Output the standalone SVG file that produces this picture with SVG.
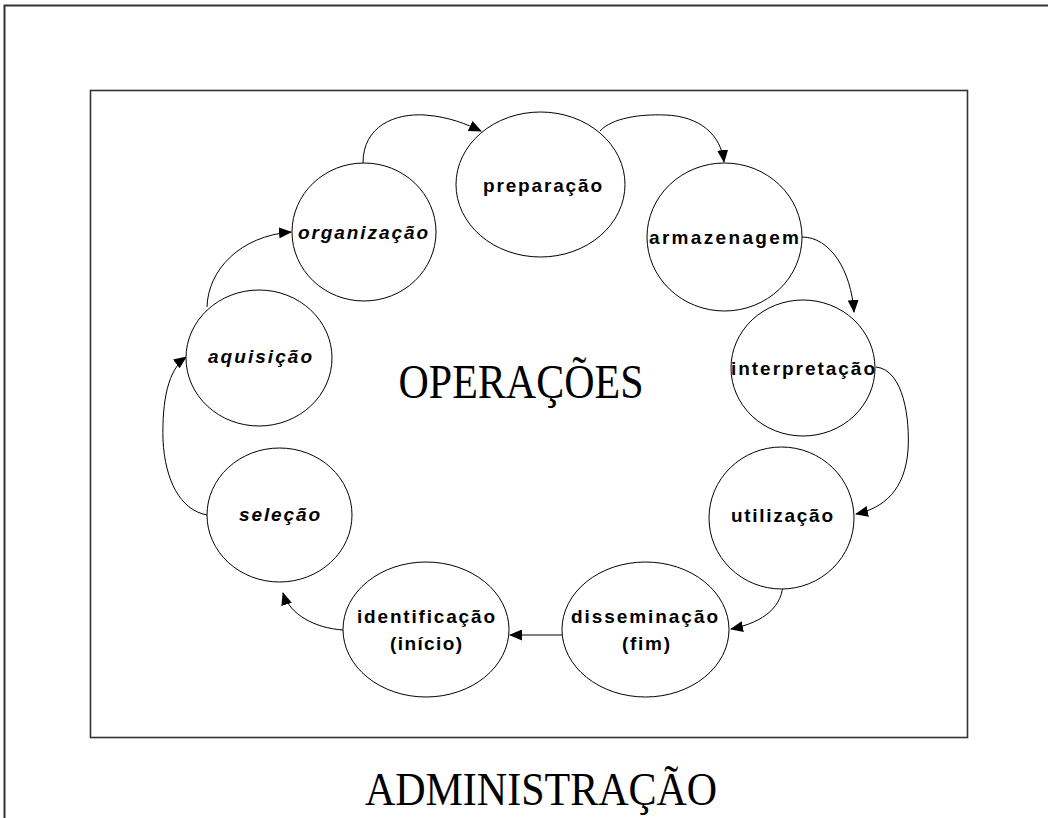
<svg xmlns="http://www.w3.org/2000/svg" width="1048" height="818" viewBox="0 0 1048 818">
  <style>
    .node ellipse { fill: #ffffff; stroke: #000000; stroke-width: 1; }
    .lbl { font-family: "Liberation Sans", Arial, sans-serif; font-size: 19px; font-weight: bold; fill: #000000; text-anchor: middle; }
    .it { font-style: italic; }
    .title { font-family: "Liberation Serif", "Times New Roman", serif; fill: #000000; text-anchor: middle; }
    .link { fill: none; stroke: #000000; stroke-width: 1; marker-end: url(#arrow); }
  </style>
  <defs>
    <marker id="arrow" viewBox="0 0 13 11" refX="12" refY="5.5" markerWidth="13" markerHeight="11" markerUnits="userSpaceOnUse" orient="auto">
      <path d="M0,0 L13,5.5 L0,11 Z" fill="#000000"/>
    </marker>
  </defs>

  <rect width="1048" height="818" fill="#ffffff"/>

  <!-- outer page frame -->
  <path d="M4.5,818 L4.5,5.5 L1048,5.5" fill="none" stroke="#333333" stroke-width="2"/>
  <!-- operations frame -->
  <rect x="90.5" y="90.5" width="877" height="647" fill="none" stroke="#333333" stroke-width="1.6"/>

  <text class="title" x="521" y="398" font-size="42" transform="translate(0,-60) scale(1,1.15)">OPERAÇÕES</text>
  <text class="title" x="541" y="805" font-size="42" transform="translate(0,-105) scale(1,1.13)">ADMINISTRAÇÃO</text>

  <g id="connectors">
    <path class="link" d="M363,163 C363,126 395,113 425,115 C450,117 466,124 481,131"/>
    <path class="link" d="M600,131 C612,118 640,114 665,115 C700,116 721,135 724,162"/>
    <path class="link" d="M802,237 C830,237 851,270 854,312"/>
    <path class="link" d="M876,367 C904,370 910,420 908,450 C905,490 884,508 856,514"/>
    <path class="link" d="M783,582 C783,606 765,622 731,629"/>
    <path class="link" d="M562,635 L510,635"/>
    <path class="link" d="M343,630 C315,628 290,615 283,593"/>
    <path class="link" d="M207,515 C180,510 165,480 163,440 C162,400 168,370 186,357"/>
    <path class="link" d="M207,307 C208,270 240,236 291,232"/>
  </g>

  <g id="preparacao" class="node">
    <ellipse cx="540.5" cy="184.5" rx="84.5" ry="72.5"/>
    <text class="lbl" x="542.5" y="192" textLength="119" lengthAdjust="spacing">preparação</text>
  </g>
  <g id="armazenagem" class="node">
    <ellipse cx="724.5" cy="237" rx="77.5" ry="74"/>
    <text class="lbl" x="724" y="244" textLength="150" lengthAdjust="spacing">armazenagem</text>
  </g>
  <g id="interpretacao" class="node">
    <ellipse cx="803" cy="368" rx="72" ry="68"/>
    <text class="lbl" x="803" y="375" textLength="144" lengthAdjust="spacing">interpretação</text>
  </g>
  <g id="utilizacao" class="node">
    <ellipse cx="781.5" cy="518" rx="72.5" ry="71"/>
    <text class="lbl" x="782" y="522" textLength="102" lengthAdjust="spacing">utilização</text>
  </g>
  <g id="disseminacao" class="node">
    <ellipse cx="645.5" cy="629.5" rx="83.5" ry="67.5"/>
    <text class="lbl" x="644.5" y="623" textLength="147" lengthAdjust="spacing">disseminação</text>
    <text class="lbl" x="646" y="650" textLength="48" lengthAdjust="spacing">(fim)</text>
  </g>
  <g id="identificacao" class="node">
    <ellipse cx="426" cy="629.5" rx="83" ry="67.5"/>
    <text class="lbl" x="426" y="623" textLength="138" lengthAdjust="spacing">identificação</text>
    <text class="lbl" x="426" y="650" textLength="72" lengthAdjust="spacing">(início)</text>
  </g>
  <g id="selecao" class="node">
    <ellipse cx="279.5" cy="515" rx="72.5" ry="67"/>
    <text class="lbl it" x="279.5" y="521" textLength="81" lengthAdjust="spacing">seleção</text>
  </g>
  <g id="aquisicao" class="node">
    <ellipse cx="259" cy="358" rx="73" ry="68"/>
    <text class="lbl it" x="260" y="363" textLength="104" lengthAdjust="spacing">aquisição</text>
  </g>
  <g id="organizacao" class="node">
    <ellipse cx="364" cy="232" rx="72" ry="69"/>
    <text class="lbl it" x="363" y="239" textLength="130" lengthAdjust="spacing">organização</text>
  </g>
</svg>
